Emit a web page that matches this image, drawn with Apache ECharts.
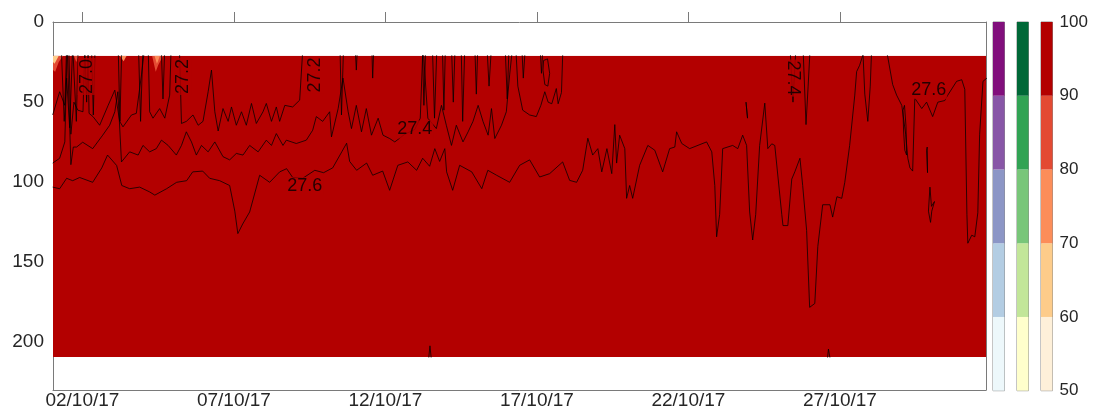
<!DOCTYPE html>
<html>
<head>
<meta charset="utf-8">
<script src="https://cdn.jsdelivr.net/npm/echarts@6/dist/echarts.min.js"></script>
<style>
html,body{margin:0;padding:0;background:#fff;}
#chart{width:1099px;height:410px;}
</style>
</head>
<body>
<div id="chart"></div>
<script>
// ---------------- DATA ----------------
// time in days since 01/10/2017 00:00, depth in m
const timeRange = [0.03, 30.82];
const depthAxisRange = [0, 230];
const dataDepthRange = [21, 209];
const xTickDays = [1, 6, 11, 16, 21, 26];
const yTickValues = [0, 50, 100, 150, 200];
const colorBins = [50, 60, 70, 80, 90, 100];
const binColorsOrRd = ['#fef0d9', '#fdcc8a', '#fc8d59', '#e34a33', '#b30000'];
const binColorsYlGn = ['#ffffcc', '#c2e699', '#78c679', '#31a354', '#006837'];
const binColorsBuPu = ['#edf8fb', '#b3cde3', '#8c96c6', '#8856a7', '#810f7c'];

// filled field: background value plus small low-value patches near the top-left
const fieldBackgroundValue = 95;
const fieldPatchValues = [85, 65, 85, 75, 85, 75];
const fieldPatchShapes = [
  [[0.03,21],[0.36,21],[0.22,25],[0.10,31],[0.03,30]],
  [[0.03,21],[0.22,21],[0.08,26],[0.03,25]],
  [[0.72,21],[0.88,21],[0.80,25]],
  [[2.24,21],[2.46,21],[2.36,24.5]],
  [[3.30,21],[3.66,21],[3.50,27],[3.42,31]],
  [[3.38,21],[3.56,21],[3.46,26]]
];

// isopycnal contours (depth vs time); depths shallower than 21 m lie above the data
const contour270 = [[0.02,15],[0.30,15],[0.40,62],[0.48,35],[0.58,66],[0.68,15],[0.74,15],[0.80,62],[0.86,15],[1.08,15],[1.14,50],[1.20,15],[1.30,15],[1.36,58],[1.42,15],[2.18,15],[2.24,62],[2.30,15],[2.85,15],[2.92,62],[3.0,15],[3.6,15],[3.66,48],[3.72,15],[30.85,15]];

const contour272 = [[0.02,58],[0.25,43.5],[0.42,52],[0.48,15],[0.55,15],[0.62,70],[0.72,50],[0.85,55],[1.02,56],[1.08,15],[1.18,15],[1.22,57],[1.35,59],[1.57,64.4],[1.85,52],[2.07,42.5],[2.23,62],[2.34,65.4],[2.62,58],[2.78,57],[2.95,33],[3.06,15],[3.17,15],[3.22,56],[3.33,60],[3.55,54],[3.72,60],[3.88,45.6],[3.93,15],[4.20,15],[4.27,63.3],[4.43,62],[4.65,58],[4.82,64.4],[4.98,62],[5.15,43.5],[5.26,30],[5.37,56],[5.48,68],[5.64,54],[5.81,62],[5.92,53],[6.08,64.4],[6.25,56],[6.41,64.4],[6.58,50.8],[6.74,63.3],[6.96,56],[7.07,50.8],[7.24,62],[7.40,53],[7.51,62],[7.68,52],[7.73,52],[7.94,53],[8.17,48.75],[8.28,15],[9.50,15],[9.55,58],[9.62,15],[10.0,15],[10.04,30],[10.08,15],[10.55,15],[10.58,35],[10.62,15],[12.22,15],[12.27,52],[12.33,15],[12.55,15],[12.62,60],[12.70,15],[12.88,15],[12.93,55],[12.98,15],[13.18,15],[13.24,50],[13.30,15],[13.50,15],[13.55,62],[13.62,15],[13.95,15],[14.00,45],[14.05,15],[14.35,15],[14.42,40],[14.50,15],[14.95,15],[15.02,48],[15.08,15],[15.5,15],[15.55,35],[15.62,15],[16.1,15],[16.15,32],[16.2,15],[30.85,15]];

const contour274 = [[0.02,88],[0.25,85],[0.42,74.8],[0.50,15],[0.56,15],[0.62,89],[0.70,78],[0.81,78],[1.01,75],[1.34,79],[1.67,70.6],[1.90,64.4],[2.07,56],[2.17,43.5],[2.29,87.3],[2.56,81],[2.84,83],[3.0,77],[3.22,81],[3.44,79],[3.61,73.7],[3.83,77],[4.10,83],[4.27,77],[4.43,68.5],[4.60,74.8],[4.76,83],[4.93,77],[5.15,81],[5.37,74.8],[5.64,84],[5.86,86],[6.08,82],[6.30,83],[6.52,77],[6.80,81],[7.07,73.7],[7.24,77],[7.40,69.6],[7.62,77],[7.73,73.7],[8.06,75.8],[8.39,73.7],[8.60,67.5],[8.72,59],[8.93,62],[9.16,56],[9.22,71.7],[9.44,54],[9.60,35],[9.77,56],[9.88,66.5],[10.04,52],[10.21,68.5],[10.37,54],[10.54,70.6],[10.76,60],[10.92,70.6],[11.14,72.7],[11.31,74.8],[11.64,70],[11.97,67],[12.15,60],[12.24,15],[12.30,15],[12.40,60],[12.68,66.5],[12.85,52],[13.01,64.4],[13.18,77],[13.34,64.4],[13.56,74.8],[13.73,68.5],[13.89,62],[14.06,52],[14.22,62],[14.39,70.6],[14.50,54],[14.61,72.7],[14.83,64.4],[14.99,56],[15.10,33],[15.20,15],[15.30,15],[15.37,40],[15.53,55],[15.76,58],[15.98,59],[16.13,52],[16.26,43.5],[16.37,50],[16.49,51],[16.64,41.5],[16.70,51],[16.81,44],[16.86,15],[24.35,15],[24.45,50],[24.55,15],[24.78,15],[24.88,64],[24.95,40],[25.02,15],[30.85,15]];

const contour276 = [[0.02,103],[0.25,104],[0.48,97.5],[0.68,99],[0.91,97],[1.34,100],[1.64,91],[1.83,83],[2.13,89.5],[2.30,102],[2.56,104],[2.89,103],[3.22,106],[3.39,108],[3.78,104],[4.11,100],[4.44,99],[4.64,93.5],[4.97,93],[5.20,97.5],[5.53,99],[5.86,102],[6.03,118],[6.13,132],[6.29,126],[6.52,118.5],[6.85,95.6],[7.18,100],[7.51,93.5],[7.74,91.5],[7.94,97],[8.27,97.5],[8.67,92.5],[8.96,94],[9.26,91],[9.56,81],[9.72,75.6],[9.82,87],[10.05,92.5],[10.38,88],[10.58,95.6],[10.91,93],[11.14,105],[11.41,89.4],[11.74,87.3],[12.03,92.5],[12.23,85],[12.46,90],[12.63,79],[12.79,87],[12.96,79],[13.02,93.5],[13.22,105],[13.45,89.4],[13.85,93.5],[14.18,104],[14.38,92.5],[14.67,95.6],[15.10,100],[15.43,89.4],[15.76,86],[16.09,96.7],[16.42,94.6],[16.85,87.3],[17.08,98.8],[17.31,100],[17.51,92.5],[17.68,72.5],[17.84,83],[18.01,79],[18.14,93.5],[18.31,79],[18.47,94.6],[18.57,64],[18.63,88],[18.73,70.6],[18.90,79],[18.96,110],[19.06,102],[19.16,110],[19.39,89.4],[19.66,77],[19.89,80],[20.15,93.5],[20.38,79],[20.55,78],[20.61,68.5],[20.78,75.8],[21.04,79],[21.60,74.8],[21.77,81],[21.87,102],[21.93,134],[22.03,120],[22.13,79],[22.46,77],[22.63,79],[22.79,70.6],[22.92,77],[23.02,118.5],[23.12,136],[23.22,120],[23.35,77],[23.52,50.6],[23.62,79],[23.75,76],[23.85,77],[24.08,120],[24.12,127],[24.28,127],[24.41,98],[24.51,93.5],[24.68,85],[24.77,102],[24.90,130],[25.00,178],[25.17,175.6],[25.27,140],[25.43,114],[25.67,114],[25.76,121.7],[25.90,109],[26.06,110],[26.16,100],[26.32,77],[26.49,45.6],[26.55,31],[26.65,27],[26.85,15],[27.50,15],[27.58,22],[27.74,39],[27.87,45.6],[28.04,52],[28.17,70],[28.24,85],[28.31,91],[28.40,93],[28.47,47.5],[28.53,47.7],[28.70,54],[28.86,50],[29.06,59],[29.23,50],[29.46,49],[29.56,45.6],[29.85,37],[30.02,36],[30.12,42],[30.19,120],[30.22,138],[30.35,133],[30.45,134],[30.55,119],[30.61,70],[30.72,37],[30.85,35]];

// small closed / short contour pieces
const contour276Loop = [[28.92,118],[28.97,103],[29.02,115],[29.12,112],[29.03,118],[28.99,125],[28.92,118]];
const contourLoopA = [[22.90,50],[22.94,50],[22.95,60],[22.91,60],[22.90,50]];
const contourLoopB = [[28.08,55],[28.13,52],[28.18,65],[28.20,83],[28.14,80],[28.10,68],[28.08,55]];
const contourLoopC = [[28.86,80],[28.88,78],[28.89,94],[28.87,94],[28.86,80]];
const contourLoopD = [[26.75,15],[26.82,45],[26.92,62],[27.0,40],[27.05,15]];
const contourLoopE = [[16.22,24],[16.35,23],[16.42,32],[16.36,40],[16.26,39],[16.20,30],[16.22,24]];
const contourBottomA = [[12.40,215],[12.47,202],[12.54,215]];
const contourBottomB = [[25.56,215],[25.62,204],[25.72,215]];

// contour labels
const labelText  = ['27.0', '27.2', '27.2', '27.4', '27.6', '27.4', '27.6'];
const labelDay   = [1.14, 4.31, 8.67, 11.97, 8.34, 24.44, 28.93];
const labelDepth = [34, 34, 33, 67, 102.5, 35, 42.5];
const labelAngle = [90, 90, 90, 0, 0, -90, 0];

// ---------------- CHART ----------------
const chart = echarts.init(document.getElementById('chart'), null, {renderer: 'canvas'});

const FONT = 'Liberation Sans, Arial, Helvetica, sans-serif';
const TXT = '#262626';
const FRAME = '#7a7a7a';

function binColor(v, colors) {
  for (let i = 0; i < colors.length; i++) {
    if (v >= colorBins[i] && v < colorBins[i + 1]) return colors[i];
  }
  return colors[colors.length - 1];
}
function fmtDate(v) {
  const d = new Date(2017, 9, 1 + Math.round(v));
  const p = n => String(n).padStart(2, '0');
  return p(d.getDate()) + '/' + p(d.getMonth() + 1) + '/' + String(d.getFullYear()).slice(2);
}

// geometry
const gLeft = 53, gTop = 22, gWidth = 933, gHeight = 368.7;
const pxPerM = gHeight / (depthAxisRange[1] - depthAxisRange[0]);
const dTop = gTop + (dataDepthRange[0] - depthAxisRange[0]) * pxPerM;
const dHeight = (dataDepthRange[1] - dataDepthRange[0]) * pxPerM;

const fieldPolys = [[[timeRange[0], dataDepthRange[0]], [timeRange[1], dataDepthRange[0]], [timeRange[1], dataDepthRange[1]], [timeRange[0], dataDepthRange[1]]]].concat(fieldPatchShapes);
const fieldVals = [fieldBackgroundValue].concat(fieldPatchValues);

const lineStyle = {color: '#000', width: 0.8, opacity: 0.95};
function contourSeries(name, data) {
  return {
    type: 'line', name: name, xAxisIndex: 2, yAxisIndex: 1, data: data,
    symbol: 'none', lineStyle: lineStyle, clip: true, z: 3, animation: false, silent: true
  };
}

const colorbarX = [993, 1017, 1041];
const colorbarSets = [binColorsBuPu, binColorsYlGn, binColorsOrRd];

const grids = [
  {left: gLeft, top: gTop, width: gWidth, height: gHeight, show: false},
  {left: gLeft, top: dTop, width: gWidth, height: dHeight, show: false}
];
colorbarX.forEach(x => grids.push({left: x, top: gTop, width: 11.5, height: gHeight, show: true, borderColor: '#8a8a8a', borderWidth: 1, backgroundColor: 'transparent'}));

const xAxes = [
  {gridIndex: 0, type: 'value', min: timeRange[0], max: timeRange[1], position: 'bottom',
   axisLine: {show: true, onZero: false, lineStyle: {color: FRAME, width: 1}},
   axisTick: {show: false}, splitLine: {show: false},
   axisLabel: {customValues: xTickDays, formatter: fmtDate, color: TXT, fontSize: 19, fontFamily: FONT, margin: 1}},
  {gridIndex: 0, type: 'value', min: timeRange[0], max: timeRange[1], position: 'top',
   axisLine: {show: true, onZero: false, lineStyle: {color: FRAME, width: 1}},
   axisTick: {show: true, inside: false, length: 10, customValues: xTickDays, lineStyle: {color: FRAME, width: 1}},
   axisLabel: {show: false}, splitLine: {show: false}},
  {gridIndex: 1, type: 'value', min: timeRange[0], max: timeRange[1], show: false}
];
const yAxes = [
  {gridIndex: 0, type: 'value', inverse: true, min: depthAxisRange[0], max: depthAxisRange[1], position: 'left',
   axisLine: {show: true, onZero: false, lineStyle: {color: FRAME, width: 1}},
   axisTick: {show: false}, splitLine: {show: false},
   axisLabel: {customValues: yTickValues, color: TXT, fontSize: 19, fontFamily: FONT, margin: 9}},
  {gridIndex: 1, type: 'value', inverse: true, min: dataDepthRange[0], max: dataDepthRange[1], show: false},
  {gridIndex: 0, type: 'value', inverse: true, min: depthAxisRange[0], max: depthAxisRange[1], position: 'right',
   axisLine: {show: true, onZero: false, lineStyle: {color: FRAME, width: 1}},
   axisTick: {show: false}, axisLabel: {show: false}, splitLine: {show: false}}
];

const series = [
  {
    type: 'custom', name: 'field', xAxisIndex: 2, yAxisIndex: 1, clip: true, z: 1, silent: true, animation: false,
    data: fieldPolys.map(p => p[0]),
    renderItem: function (params, api) {
      const poly = fieldPolys[params.dataIndex];
      const pts = poly.map(p => api.coord(p));
      return {type: 'polygon', shape: {points: pts}, style: {fill: binColor(fieldVals[params.dataIndex], binColorsOrRd), stroke: null}};
    }
  },
  contourSeries('27.0', contour270),
  contourSeries('27.2', contour272),
  contourSeries('27.4', contour274),
  contourSeries('27.6', contour276),
  contourSeries('27.6b', contour276Loop),
  contourSeries('la', contourLoopA),
  contourSeries('lb', contourLoopB),
  contourSeries('lc', contourLoopC),
  contourSeries('ld', contourLoopD),
  contourSeries('le', contourLoopE),
  contourSeries('b1', contourBottomA),
  contourSeries('b2', contourBottomB),
  {
    type: 'scatter', name: 'labels', xAxisIndex: 2, yAxisIndex: 1, symbolSize: 0, z: 5, silent: true, animation: false,
    data: labelText.map((t, i) => ({
      value: [labelDay[i], labelDepth[i]], name: t,
      label: {rotate: labelAngle[i]}
    })),
    label: {show: true, position: 'inside', formatter: p => p.name, color: '#000', fontSize: 18, fontFamily: FONT,
            backgroundColor: '#b30000', padding: [0, 1]}
  }
];

// colorbars
colorbarSets.forEach((cols, gi) => {
  xAxes.push({gridIndex: 2 + gi, type: 'category', data: ['c'], show: false, boundaryGap: true});
  yAxes.push({gridIndex: 2 + gi, type: 'value', min: colorBins[0], max: colorBins[colorBins.length - 1], interval: 10,
    show: gi === 2, position: 'right',
    axisLine: {show: false}, axisTick: {show: false}, splitLine: {show: false},
    axisLabel: {color: TXT, fontSize: 17, fontFamily: FONT, margin: 7}});
  // base segment (invisible) so stacked bins start at the colour scale minimum
  series.push({
    type: 'bar', xAxisIndex: 3 + gi, yAxisIndex: 3 + gi, stack: 'cb' + gi, barWidth: '100%',
    data: [colorBins[0]], itemStyle: {color: 'rgba(0,0,0,0)'}, silent: true, animation: false, z: 1
  });
  cols.forEach((c, bi) => {
    series.push({
      type: 'bar', xAxisIndex: 3 + gi, yAxisIndex: 3 + gi, stack: 'cb' + gi, barWidth: '100%',
      data: [colorBins[bi + 1] - colorBins[bi]], itemStyle: {color: c}, silent: true, animation: false, z: 1
    });
  });
});

chart.setOption({
  animation: false,
  backgroundColor: '#ffffff',
  grid: grids,
  xAxis: xAxes,
  yAxis: yAxes,
  series: series
});
</script>
</body>
</html>
